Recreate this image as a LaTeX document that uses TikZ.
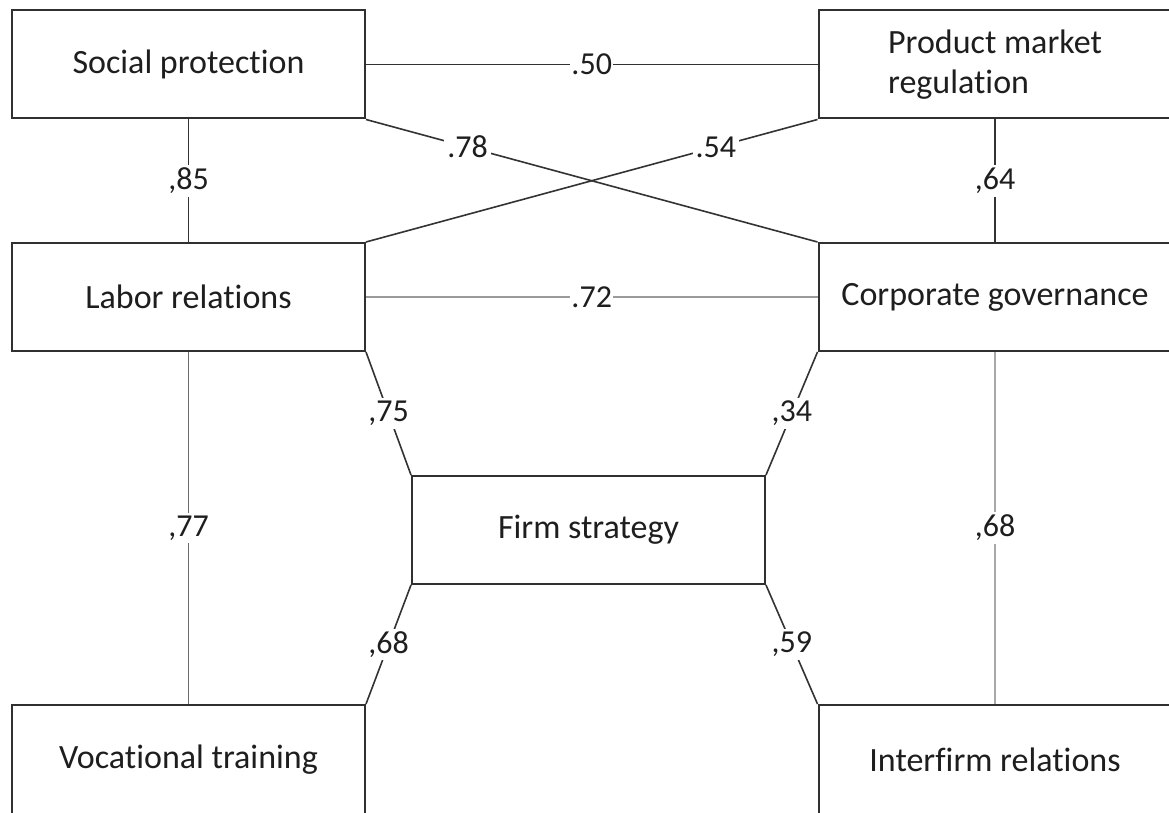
\documentclass[tikz,border=0pt]{standalone}
\usepackage{fontspec}
\setmainfont{Carlito}[Ligatures=NoCommon]
\definecolor{boxc}{HTML}{303030}
\definecolor{linec}{HTML}{333333}
\definecolor{txt}{HTML}{1E1E1E}
\definecolor{greyA}{HTML}{9A9A9A}
\definecolor{greyB}{HTML}{6A6A6A}
\definecolor{greyC}{HTML}{A8A8A8}
\begin{document}
\begin{tikzpicture}[x=0.5pt,y=-0.5pt,
  box/.style={draw=boxc, line width=1pt, minimum width=176.5pt, minimum height=54pt,
    inner sep=0pt, font=\fontsize{17}{20}\selectfont, text=txt},
  conn/.style={draw=linec, line width=0.8pt},
  lbl/.style={fill=white, inner sep=1.5pt, font=\fontsize{16}{18}\selectfont, text=txt}]
\clip (0,0) rectangle (1169,813);
\fill[white] (0,0) rectangle (1169,813);

% boxes
\node[box] (sp)  at (188.5,64.5) {Social protection};
\node[box, align=left] (pmr) at (995,64.5) {Product market\\regulation};
\node[box] (lr)  at (188.5,297) {Labor relations};
\node[box] (cg)  at (995,297) {Corporate governance};
\node[box] (fs)  at (588.5,530) {Firm strategy};
\node[box, minimum height=55pt] (vt)  at (188.5,760) {Vocational training};
\node[box, minimum height=55pt] (ir)  at (995,760) {Interfirm relations};

% connectors
\draw[conn] (sp.east) -- node[lbl, inner sep=0.5pt] {.50} (pmr.west);
\draw[conn] (sp.south) -- node[lbl] {,85} (lr.north);
\draw[conn] (pmr.south) -- node[lbl] {,64} (cg.north);
\draw[conn] (sp.south east) -- node[lbl, pos=0.225] {.78} (cg.north west);
\draw[conn] (lr.north east) -- node[lbl, pos=0.775] {.54} (pmr.south west);
\draw[conn, draw=greyA, line width=1.2pt] (lr.east) -- node[lbl, inner sep=0.5pt] {.72} (cg.west);
\draw[conn, draw=greyB] (lr.south) -- node[lbl] {,77} (vt.north);
\draw[conn, draw=greyC, line width=1pt] (cg.south) -- node[lbl] {,68} (ir.north);
\draw[conn] (lr.south east) -- node[lbl] {,75} (fs.north west);
\draw[conn] (cg.south west) -- node[lbl] {,34} (fs.north east);
\draw[conn] (fs.south west) -- node[lbl] {,68} (vt.north east);
\draw[conn] (fs.south east) -- node[lbl] {,59} (ir.north west);
\end{tikzpicture}
\end{document}
